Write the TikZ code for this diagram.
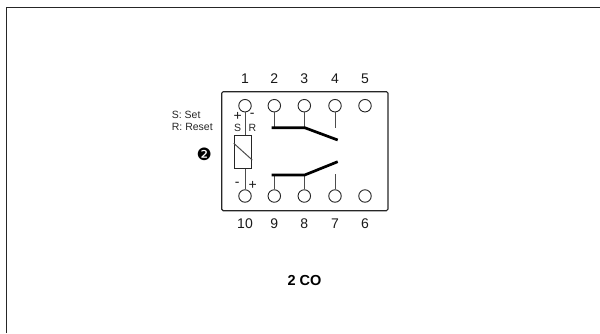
\documentclass[tikz,border=0pt]{standalone}
\usepackage{fontspec}
\setmainfont{Liberation Sans}
\newfontfamily\dejavu{DejaVu Sans}
\begin{document}
\begin{tikzpicture}[x=1pt,y=-1pt,
  term/.style={circle,draw=black!85,line width=.9pt,minimum size=12.5pt,inner sep=0pt,fill=white},
  wire/.style={draw=black!70,line width=1pt},
  blade/.style={draw=black,line width=2.7pt},
  num/.style={font=\fontsize{14}{16}\selectfont,inner sep=0pt,text=black!90},
  small/.style={font=\fontsize{10.5}{12}\selectfont,inner sep=0pt,text=black!85},
  sign/.style={font=\fontsize{14}{16}\selectfont,inner sep=0pt,text=black!90}]
\useasboundingbox (0,0) rectangle (600,333);
\draw[line width=1.4pt,black!85] (6.5,333) -- (6.5,7.5) -- (600,7.5);
\draw[line width=1.1pt,black!85,rounded corners=1.5pt] (221.7,91.7) rectangle (388,210.7);
% terminals
\foreach \n/\x/\lx in {t1/245/1,t2/274.3/2,t3/304.3/3,t4/335/4,t5/365/5}{
  \node[term] (\n) at (\x,105.7) {};
  \node[num] (l\lx) at (\x,79) {\lx};
}
\foreach \n/\x/\lx in {t10/245/10,t9/274.3/9,t8/304.3/8,t7/335/7,t6/365/6}{
  \node[term] (\n) at (\x,196) {};
  \node[num] (l\lx) at (\x,223.5) {\lx};
}
% coil
\node[draw=black!85,line width=1.1pt,minimum width=17.4pt,minimum height=33pt,inner sep=0pt] (coil) at (243,152.2) {};
\draw[wire] (coil.west |- 0,143.3) -- (coil.east |- 0,160);
\draw[wire] (t1) -- (t1 |- coil.north);
\draw[wire] (t10 |- coil.south) -- (t10);
% contacts
\coordinate (a2) at (274.3,127.7); \coordinate (a3) at (304.3,127.7);
\coordinate (b9) at (274.3,175); \coordinate (b8) at (304.3,175);
\coordinate (fu4) at (335,127.7); \coordinate (fl7) at (335,174);
\draw[wire] (t2) -- (a2);
\draw[wire] (t3) -- (a3);
\draw[wire] (t4) -- (fu4);
\draw[wire] (t9) -- (b9);
\draw[wire] (t8) -- (b8);
\draw[wire] (t7) -- (fl7);
\draw[blade] (271.7,127.7) -- (304.7,127.7) -- (337.7,140);
\draw[blade] (271.7,175) -- (304.7,175) -- (337.7,161.7);
% labels
\node[small,anchor=west] (sset) at (171.7,115) {S: Set};
\node[small,anchor=west] (rreset) at (171.7,127.3) {R: Reset};
\node[small] (s) at (237.7,127.7) {S};
\node[small] (r) at (252.3,127.7) {R};
\node[sign] (pl) at (237.7,116.5) {+};
\node[sign] (mi) at (252.3,115) {-};
\node[sign] (mi2) at (237.3,184) {-};
\node[sign] (pl2) at (252.7,185.7) {+};
\node[inner sep=0pt,font=\dejavu\fontsize{17}{18}\selectfont] (two) at (204.3,154) {❷};
\node[inner sep=0pt,font=\bfseries\fontsize{14.5}{16}\selectfont] (co) at (304.5,281) {2 CO};
\end{tikzpicture}
\end{document}
